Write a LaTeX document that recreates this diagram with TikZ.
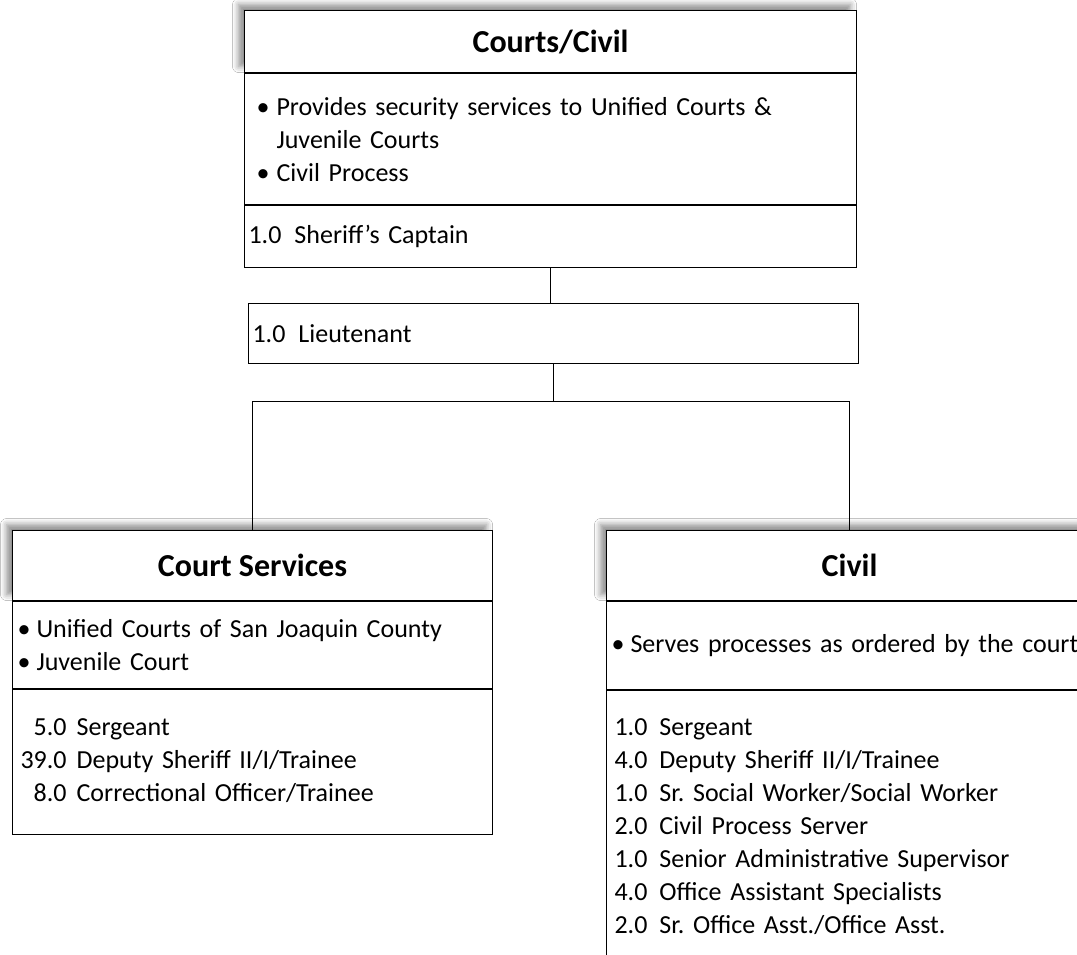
\documentclass[tikz,border=0pt]{standalone}
\usepackage{fontspec}
\setmainfont{Carlito}
\usetikzlibrary{positioning, shadows.blur}
\newcommand{\bul}[1]{\makebox[#1][l]{\textbullet}}
\frenchspacing

\begin{document}
\begin{tikzpicture}[
    x=1pt, y=-1pt,
    every node/.style={font=\fontsize{26}{33}\selectfont},
    cell/.style ={draw, line width=1.1pt, fill=white, align=left, inner ysep=0pt},
    head/.style ={cell, align=center, inner xsep=0pt,
                  font=\bfseries\fontsize{32}{36}\selectfont,
                  blur shadow={shadow xshift=-6pt, shadow yshift=6pt,
                               shadow blur radius=6pt, shadow opacity=45}},
    link/.style ={line width=1.1pt},
]
\path[use as bounding box, clip] (0,0) rectangle (1077,955);
\fill[white] (0,0) rectangle (1077,955);

% division head
\node[head, minimum width=612pt, minimum height=62pt, anchor=north west]
      (cc) at (244,10) {Courts/Civil};
\node[cell, below=0pt of cc, inner xsep=12pt, text width=588pt, minimum height=131pt]
      (ccjob) {\bul{20pt}Provides security services to Unified Courts \&\\
               \hspace*{20pt}Juvenile Courts\\
               \bul{20pt}Civil Process};
\node[cell, below=0pt of ccjob, inner xsep=4pt, text width=604pt, minimum height=62pt]
      (ccstaff) {1.0\hspace{13pt}Sheriff's Captain};
\node[cell, inner xsep=4pt, text width=602pt, minimum height=60pt, anchor=north west]
      (lt) at (248,303) {1.0\hspace{13pt}Lieutenant};

% court services
\node[head, minimum width=480pt, minimum height=70pt, anchor=north west]
      (cs) at (12,530) {Court Services};
\node[cell, below=0pt of cs, inner xsep=5pt, text width=470pt, minimum height=87pt]
      (csjob) {\bul{19pt}Unified Courts of San Joaquin County\\
               \bul{19pt}Juvenile Court};
\node[cell, below=0pt of csjob, inner xsep=8pt, text width=464pt, minimum height=145pt]
      (csstaff) {\begin{tabular}{@{}r@{\hspace{10pt}}l@{}}
                 5.0 & Sergeant\\
                 39.0 & Deputy Sheriff II/I/Trainee\\
                 8.0 & Correctional Officer/Trainee
                 \end{tabular}};

% civil
\node[head, minimum width=486pt, minimum height=70pt, anchor=north west]
      (cv) at (606,530) {Civil};
\node[cell, below=0pt of cv, inner xsep=5pt, text width=476pt, minimum height=88pt]
      (cvjob) {\mbox{\bul{19pt}Serves processes as ordered by the court}};
\node[cell, below=0pt of cvjob, inner xsep=8pt, text width=470pt, minimum height=274pt]
      (cvstaff) {\begin{tabular}{@{}r@{\hspace{12pt}}l@{}}
                 1.0 & Sergeant\\
                 4.0 & Deputy Sheriff II/I/Trainee\\
                 1.0 & Sr. Social Worker/Social Worker\\
                 2.0 & Civil Process Server\\
                 1.0 & Senior Administrative Supervisor\\
                 4.0 & Office Assistant Specialists\\
                 2.0 & Sr. Office Asst./Office Asst.
                 \end{tabular}};

\draw[link] (ccstaff.south) -- (ccstaff.south |- lt.north);
\draw[link] (lt.south) -- ++(0,37) coordinate (split);
\draw[link] (cs.north) |- (split) -| (cv.north);
\end{tikzpicture}
\end{document}
